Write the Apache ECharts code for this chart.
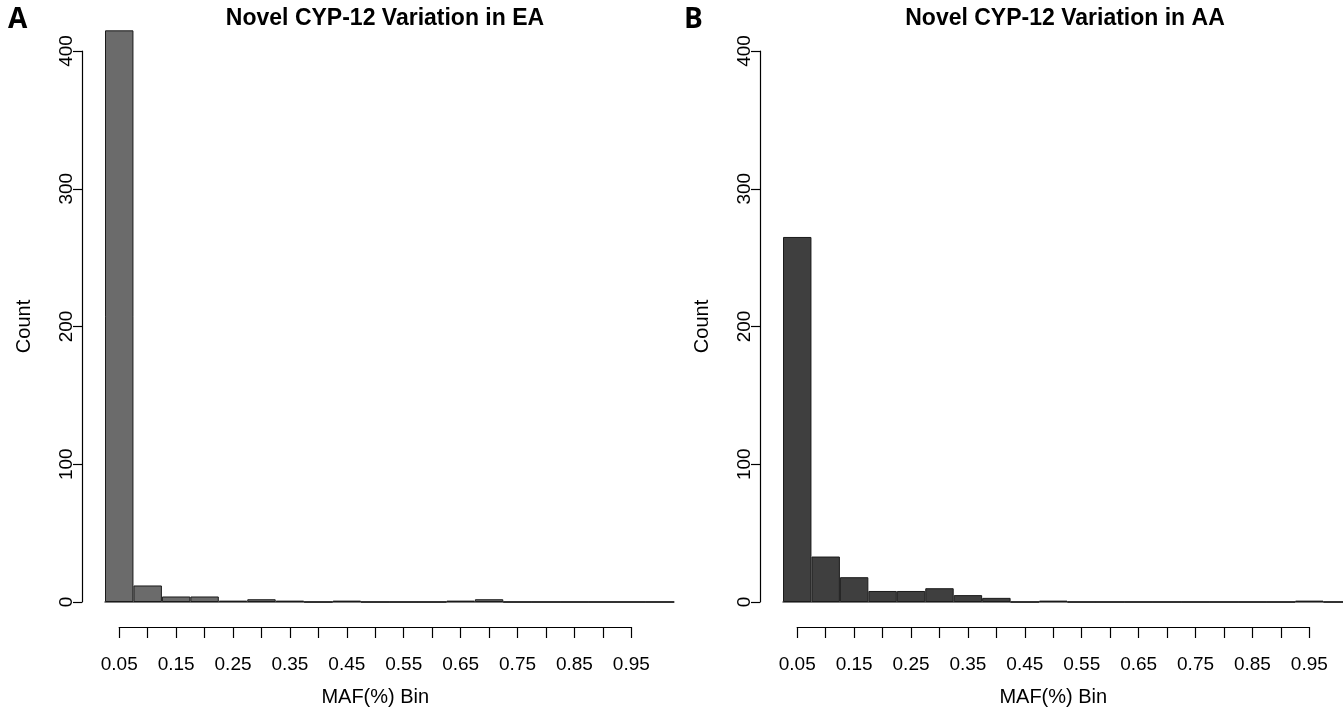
<!DOCTYPE html>
<html lang="en">

<head>
    <meta charset="UTF-8">
    <title>Novel CYP-12 Variation</title>
    <script src="https://cdn.jsdelivr.net/npm/echarts@6/dist/echarts.min.js"></script>
    <style>
        html, body { margin: 0; padding: 0; background: #fff; }
        #chart { width: 1343px; height: 707px; }
    </style>
</head>

<body>
    <div id="chart"></div>
    <script>
        // MAF bins (20 bins, 0.05 wide)
        const bins = ['0.05', '0.10', '0.15', '0.20', '0.25', '0.30', '0.35', '0.40', '0.45', '0.50',
            '0.55', '0.60', '0.65', '0.70', '0.75', '0.80', '0.85', '0.90', '0.95', '1.00'];
        // tick labels shown under the bars (last bin has no tick)
        const tickLabels = bins.slice(0, 19);

        // counts
        const countsEA = [415, 12, 4, 4, 1, 2, 1, 0, 1, 0, 0, 0, 1, 2, 0, 0, 0, 0, 0, 0];
        const countsAA = [265, 33, 18, 8, 8, 10, 5, 3, 0, 1, 0, 0, 0, 0, 0, 0, 0, 0, 1, 0];

        const titles = ['Novel CYP-12 Variation in EA', 'Novel CYP-12 Variation in AA'];
        const font = 'Liberation Sans, Arial, Helvetica, sans-serif';

        const chart = echarts.init(document.getElementById('chart'));

        // one panel = bar grid + small grid that carries the tick axis
        function panel(i, barLeft, counts, color) {
            const binW = 28.45;
            const g = i * 2;
            return {
                grids: [
                    { left: barLeft, width: binW * 20, top: 51, height: 551, outerBoundsMode: 'none' },
                    { left: barLeft + binW / 2, width: binW * 18, top: 626, height: 1, outerBoundsMode: 'none' }
                ],
                xAxes: [{
                    type: 'category', gridIndex: g, data: bins,
                    axisTick: { show: false }, axisLabel: { show: false },
                    axisLine: { lineStyle: { color: '#555', width: 1.5 } }
                }, {
                    type: 'category', gridIndex: g + 1, data: tickLabels, boundaryGap: false,
                    axisLine: { lineStyle: { color: '#000', width: 1.2 } },
                    axisTick: { length: 11, interval: 0, lineStyle: { color: '#000', width: 1.2 } },
                    axisLabel: { interval: 1, fontSize: 19, color: '#000', margin: 28, fontFamily: font },
                    name: 'MAF(%) Bin', nameLocation: 'middle', nameGap: 60,
                    nameTextStyle: { fontSize: 20, color: '#000', fontFamily: font }
                }],
                yAxes: [{
                    type: 'value', gridIndex: g, min: 0, max: 400, interval: 100, offset: 23,
                    axisLine: { show: true, lineStyle: { color: '#000', width: 1.2 } },
                    axisTick: { show: true, length: 9, lineStyle: { color: '#000', width: 1.2 } },
                    axisLabel: { rotate: 90, fontSize: 19, color: '#000', margin: 6, fontFamily: font },
                    splitLine: { show: false },
                    name: 'Count', nameLocation: 'middle', nameGap: 48, nameRotate: 90,
                    nameTextStyle: { fontSize: 20, color: '#000', fontFamily: font }
                }, {
                    type: 'value', gridIndex: g + 1, show: false
                }],
                series: [{
                    type: 'bar', xAxisIndex: g, yAxisIndex: g, data: counts,
                    barCategoryGap: '0%', clip: false, silent: true,
                    itemStyle: { color: color, borderColor: '#1a1a1a', borderWidth: 1 }
                }]
            };
        }

        const pA = panel(0, 105, countsEA, '#6b6b6b');
        const pB = panel(1, 783, countsAA, '#3f3f3f');

        chart.setOption({
            animation: false,
            backgroundColor: '#fff',
            title: [
                { text: titles[0], left: 385, top: 7, textAlign: 'center', padding: 0,
                  textStyle: { fontSize: 23, fontWeight: 'bold', color: '#000', fontFamily: font } },
                { text: titles[1], left: 1065, top: 7, textAlign: 'center', padding: 0,
                  textStyle: { fontSize: 23, fontWeight: 'bold', color: '#000', fontFamily: font } },
                { text: 'A', left: 8, top: 6, padding: 0,
                  textStyle: { fontSize: 28, fontWeight: 'bold', color: '#000', fontFamily: 'Open Sans, sans-serif' } },
                { text: 'B', left: 684, top: 6, padding: 0,
                  textStyle: { fontSize: 28, fontWeight: 'bold', color: '#000', fontFamily: 'Open Sans, sans-serif' } }
            ],
            grid: pA.grids.concat(pB.grids),
            xAxis: pA.xAxes.concat(pB.xAxes),
            yAxis: pA.yAxes.concat(pB.yAxes),
            series: pA.series.concat(pB.series)
        });
    </script>
</body>

</html>
